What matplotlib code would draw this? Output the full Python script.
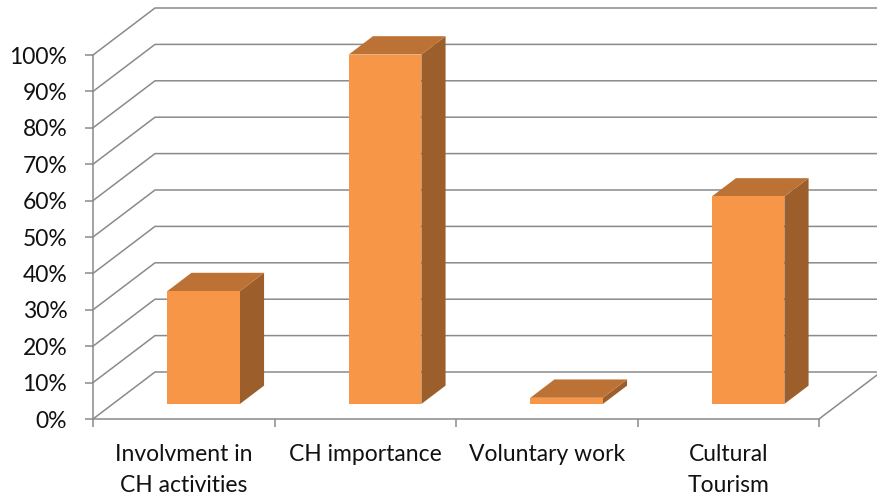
import matplotlib.pyplot as plt
from matplotlib.patches import Polygon
import numpy as np

# data
categories = ["Involvment in\nCH activities", "CH importance", "Voluntary work", "Cultural\nTourism"]
values = [0.31, 0.96, 0.017, 0.57]
y_ticks = [0.0, 0.1, 0.2, 0.3, 0.4, 0.5, 0.6, 0.7, 0.8, 0.9, 1.0]
y_tick_labels = ["0%", "10%", "20%", "30%", "40%", "50%", "60%", "70%", "80%", "90%", "100%"]

FRONT_COLOR = "#F79646"
TOP_COLOR = "#BD7235"
SIDE_COLOR = "#9C5F2B"
GRID_COLOR = "#8A8A8A"
TEXT_COLOR = "#111111"

W, H = 877, 498
plt.rcParams['font.family'] = ['Lato', 'DejaVu Sans']

fig = plt.figure(figsize=(W / 100, H / 100), dpi=100)
fig.set_facecolor("white")
# front plane of the chart: left/bottom at pixel (93, 419), right/top at (819, 55)
ax = fig.add_axes([93 / W, 1 - 419 / H, (819 - 93) / W, (419 - 55) / H])
n = len(categories)
ax.set_xlim(0, n)
ax.set_ylim(0, 1.0)
ax.set_facecolor("none")

# oblique depth offset (pixels for full depth), converted to data units
depth_px = np.array([62, 47])
origin = ax.transData.transform((0, 0))
kx, ky = ax.transData.inverted().transform(origin + depth_px)


def proj(x, y, d):
    return x + d * kx, y + d * ky


# back wall gridlines + left wall diagonals
for v in y_ticks:
    pts = [proj(0, v, 0), proj(0, v, 1), proj(n + 1, v, 1)]
    ax.plot([p[0] for p in pts], [p[1] for p in pts], color=GRID_COLOR,
            lw=1.1, clip_on=False, zorder=1)

# right edge of the floor
p0, p1 = proj(n, 0, 0), proj(n, 0, 1)
ax.plot([p0[0], p1[0]], [p0[1], p1[1]], color=GRID_COLOR, lw=1.1, clip_on=False, zorder=1)

# 3D bars
half_w = 0.2
d0, d1 = 0.32, 0.71
for i, v in enumerate(values):
    c = i + 0.5
    left, right = c - half_w, c + half_w
    side = [proj(right, 0, d0), proj(right, 0, d1), proj(right, v, d1), proj(right, v, d0)]
    top = [proj(left, v, d0), proj(right, v, d0), proj(right, v, d1), proj(left, v, d1)]
    front = [proj(left, 0, d0), proj(right, 0, d0), proj(right, v, d0), proj(left, v, d0)]
    ax.add_patch(Polygon(side, closed=True, facecolor=SIDE_COLOR, edgecolor="none", zorder=3, clip_on=False))
    ax.add_patch(Polygon(top, closed=True, facecolor=TOP_COLOR, edgecolor="none", zorder=3, clip_on=False))
    ax.add_patch(Polygon(front, closed=True, facecolor=FRONT_COLOR, edgecolor="none", zorder=4, clip_on=False))

# axes
for s in ["top", "right"]:
    ax.spines[s].set_visible(False)
for s in ["left", "bottom"]:
    ax.spines[s].set_color(GRID_COLOR)
    ax.spines[s].set_linewidth(1.1)

ax.set_yticks(y_ticks)
ax.set_yticklabels(y_tick_labels)
ax.tick_params(axis='y', length=5.5, width=1.1, color=GRID_COLOR, pad=13,
               labelsize=16.5, labelcolor=TEXT_COLOR)

ax.set_xticks(np.arange(n + 1))
ax.set_xticklabels([])
ax.tick_params(axis='x', which='major', length=5.5, width=1.1, color=GRID_COLOR)
ax.set_xticks(np.arange(n) + 0.5, minor=True)
ax.set_xticklabels(categories, minor=True, fontsize=16.5, color=TEXT_COLOR, linespacing=1.6,
                   va='top')
ax.tick_params(axis='x', which='minor', length=0, pad=18)

fig.savefig("out.png", dpi=100)
